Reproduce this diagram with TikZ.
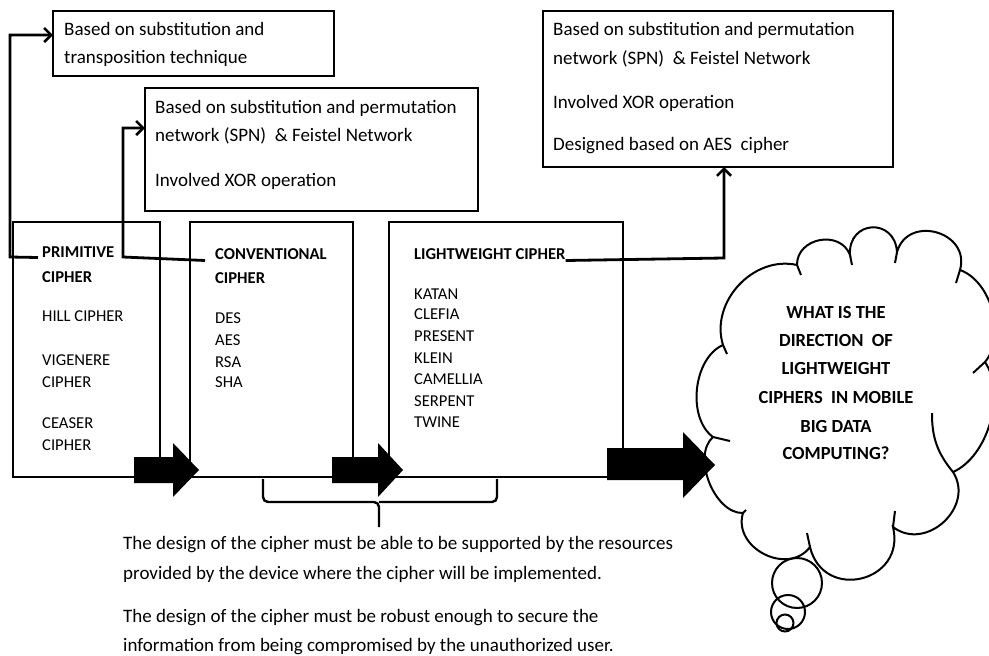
\documentclass[tikz,border=0pt]{standalone}
\usepackage{fontspec}
\setmainfont{Carlito}
\usetikzlibrary{arrows.meta,calc}
\begin{document}
\begin{tikzpicture}[x=1pt,y=-1pt,
  txt/.style={anchor=base west,inner sep=0pt,font=\fontsize{19}{21}\selectfont},
  captxt/.style={anchor=base west,inner sep=0pt,font=\fontsize{16.6}{18}\selectfont},
  captxtb/.style={anchor=base west,inner sep=0pt,font=\fontsize{16.6}{18}\selectfont\bfseries},
  cloudtxt/.style={anchor=base,inner sep=0pt,font=\fontsize{18.5}{20}\selectfont\bfseries},
  mainbox/.style={draw,line width=2.8pt,anchor=north west,inner sep=0pt,outer sep=0pt},
  topbox/.style={draw,line width=1.6pt,anchor=north west,inner sep=0pt,outer sep=0pt},
  conn/.style={line width=2.8pt,-{Straight Barb[length=7pt,width=14pt,line width=2.6pt]}},
  brace/.style={line width=2.4pt,rounded corners=5pt},
  bigarrow/.style={fill=black},
  cloudline/.style={line width=2pt}
]
\useasboundingbox (0,0) rectangle (989,656);

% top boxes
\node[topbox,minimum width=281pt,minimum height=65pt] (box1) at (53,11) {};
\node[topbox,minimum width=333pt,minimum height=123pt] (box2) at (145,88) {};
\node[topbox,minimum width=350pt,minimum height=156pt] (box3) at (543,11) {};

\node[txt] (a1) at (64,35) {Based on substitution and};
\node[txt] (a2) at (64,63) {transposition technique};

\node[txt] (b1) at (155,113) {Based on substitution and permutation};
\node[txt] (b2) at (155,141) {network (SPN)\ \ \& Feistel Network};
\node[txt] (b3) at (155,186) {Involved XOR operation};

\node[txt] (c1) at (553,35) {Based on substitution and permutation};
\node[txt] (c2) at (553,64) {network (SPN)\ \ \& Feistel Network};
\node[txt] (c3) at (553,108) {Involved XOR operation};
\node[txt] (c4) at (553,150) {Designed based on AES\ \ cipher};

% main boxes
\node[mainbox,minimum width=147pt,minimum height=255pt] (pbox) at (13,222) {};
\node[mainbox,minimum width=163pt,minimum height=255pt] (cbox) at (190,222) {};
\node[mainbox,minimum width=234pt,minimum height=255pt] (lbox) at (389,222) {};

\node[captxtb] (p1) at (42,257.5) {PRIMITIVE};
\node[captxtb] (p2) at (42,282.5) {CIPHER};
\node[captxt] (p3) at (42,321.5) {HILL CIPHER};
\node[captxt] (p4) at (42,365.5) {VIGENERE};
\node[captxt] (p5) at (42,387.5) {CIPHER};
\node[captxt] (p6) at (42,428.5) {CEASER};
\node[captxt] (p7) at (42,450.5) {CIPHER};

\node[captxtb] (v1) at (215,259.5) {CONVENTIONAL};
\node[captxtb] (v2) at (215,283.5) {CIPHER};
\node[captxt] (v3) at (215,323.5) {DES};
\node[captxt] (v4) at (215,345.5) {AES};
\node[captxt] (v5) at (215,367.5) {RSA};
\node[captxt] (v6) at (215,387.5) {SHA};

\node[captxtb] (l1) at (414,259.5) {LIGHTWEIGHT CIPHER};
\node[captxt] (l2) at (414,299.5) {KATAN};
\node[captxt] (l3) at (414,319.5) {CLEFIA};
\node[captxt] (l4) at (414,341.5) {PRESENT};
\node[captxt] (l5) at (414,363.5) {KLEIN};
\node[captxt] (l6) at (414,384.5) {CAMELLIA};
\node[captxt] (l7) at (414,406.5) {SERPENT};
\node[captxt] (l8) at (414,427.5) {TWINE};

% connectors
\coordinate (k1) at (10,257);
\coordinate (k2) at (10,35);
\draw[conn] ([xshift=-4pt]p1.base west) -- (k1) -- (k2) -- (box1.west |- k2);
\coordinate (k3) at (123,257);
\coordinate (k4) at (123,128);
\draw[conn] ([xshift=-10pt,yshift=-1pt]v1.base west) -- (k3) -- (k4) -- (box2.west |- k4);
\coordinate (k5) at (724,258);
\draw[conn] ([yshift=-1pt]l1.base east) -- (k5) -- (box3.south -| k5);

% block arrows
\fill[bigarrow] (134,457) -- (173,457) -- (173,443) -- (199,470) -- (173,497) -- (173,483) -- (134,483) -- cycle;
\fill[bigarrow] (332,457) -- (378,457) -- (378,443) -- (403,470) -- (378,497) -- (378,483) -- (332,483) -- cycle;
\fill[bigarrow] (607,448) -- (683,448) -- (683,432) -- (715,465) -- (683,498) -- (683,480) -- (607,480) -- cycle;

% brace
\draw[brace] (263,479) |- (379,502) -- (379,527);
\draw[brace] (379,502) -| (497,479);

% bottom text
\node[txt] (d1) at (123,549) {The\ design of the cipher must be able to be supported by the resources};
\node[txt] (d2) at (123,579) {provided by the device where the cipher will be implemented.};
\node[txt] (d3) at (123,622) {The\ design of the cipher must be robust enough to secure the};
\node[txt] (d4) at (123,651) {information from\ being compromised by the unauthorized user.};

% cloud
\draw[cloudline] (723,345) to[bend left=60,looseness=1.05] (797,265)
  to[bend left=80,looseness=1.3] (850,255)
  to[bend left=90,looseness=1.9] (897,252)
  to[bend left=90,looseness=1.55] (960,270)
  to[bend left=55,looseness=0.9] (985,362)
  to[bend left=50,looseness=0.85] (953,472)
  to[bend left=80,looseness=1.3] (893,527)
  to[bend left=90,looseness=1.7] (810,547)
  to[bend left=80,looseness=1.25] (743,513)
  to[bend left=70,looseness=0.9] (713,437)
  to[bend left=60,looseness=0.9] (723,345);
\draw[cloudline] (713,437) -- (730,441);
\draw[cloudline] (723,345) -- (727,354);
\draw[cloudline] (797,265) -- (801,275);
\draw[cloudline] (850,255) -- (852,265);
\draw[cloudline] (897,252) -- (895,263);
\draw[cloudline] (960,270) -- (956,283);
\draw[cloudline] (985,362) -- (973,373);
\draw[cloudline] (953,472) to[bend left=20] (932,413);
\draw[cloudline] (893,527) -- (895,511);
\draw[cloudline] (810,547) -- (807,533);
\draw[cloudline] (743,513) -- (746,510);
\draw[cloudline] (797,583) circle[radius=25];
\draw[cloudline] (788,612) circle[radius=17];
\draw[cloudline] (785,623) circle[radius=8.5];

\node[cloudtxt] (q1) at (836,318) {WHAT IS THE};
\node[cloudtxt] (q2) at (836,346) {DIRECTION\ \ OF};
\node[cloudtxt] (q3) at (836,374) {LIGHTWEIGHT};
\node[cloudtxt] (q4) at (836,403) {CIPHERS\ \ IN MOBILE};
\node[cloudtxt] (q5) at (836,432) {BIG DATA};
\node[cloudtxt] (q6) at (836,459) {COMPUTING?};
\end{tikzpicture}
\end{document}
